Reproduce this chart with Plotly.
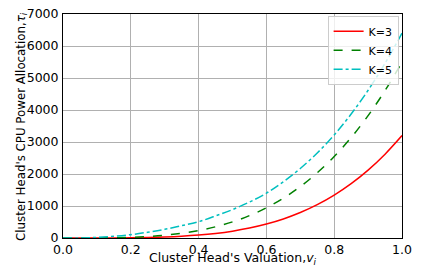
import plotly.graph_objects as go

valuation = [0.0, 0.05, 0.1, 0.15, 0.2, 0.25, 0.3, 0.35, 0.4, 0.45, 0.5,
             0.55, 0.6, 0.65, 0.7, 0.75, 0.8, 0.85, 0.9, 0.95, 1.0]
k3 = [0, 0, 0.4, 2, 6, 14, 29, 53, 90, 142, 214,
      311, 436, 596, 796, 1042, 1341, 1698, 2122, 2620, 3200]
k4 = [0, 0, 2, 8, 21, 46, 86, 147, 233, 350, 503,
      699, 944, 1244, 1607, 2038, 2547, 3140, 3823, 4608, 5500]
k5 = [0, 2, 20, 55, 105, 180, 270, 385, 510, 689, 888,
      1123, 1400, 1758, 2172, 2657, 3220, 3874, 4616, 5459, 6400]
names = ["K=3", "K=4", "K=5"]
colors = ["#ff0000", "#008000", "#00bfbf"]
dashes = ["solid", "dash", "dashdot"]
x_title = "Cluster Head's Valuation,<i>v<sub>i</sub></i>"
y_title = "Cluster Head's CPU Power Allocation,<i>τ<sub>i</sub></i>"

fig = go.Figure()
for name, ys, c, d in zip(names, [k3, k4, k5], colors, dashes):
    fig.add_trace(go.Scatter(x=valuation, y=ys, mode="lines", name=name,
                             line=dict(color=c, width=1.5, dash=d, shape="spline")))

font = "DejaVu Sans, sans-serif"
axis_common = dict(showgrid=True, gridcolor="#b0b0b0", gridwidth=1,
                   showline=True, linecolor="black", linewidth=1, mirror=True,
                   ticks="", zeroline=False, automargin=False,
                   ticklabeloverflow="allow", tickfont=dict(size=12.5))
fig.update_layout(
    width=413, height=258,
    margin=dict(l=55, r=19, t=6, b=28),
    paper_bgcolor="white", plot_bgcolor="white",
    font=dict(family=font, size=12.5, color="black"),
    showlegend=True,
    legend=dict(x=0.99, y=0.992, xanchor="right", yanchor="top",
                bgcolor="rgba(255,255,255,0.8)", bordercolor="#cccccc", borderwidth=1,
                font=dict(size=11), tracegroupgap=0, itemwidth=30),
    xaxis=dict(range=[0, 1], tickvals=[0, 0.2, 0.4, 0.6, 0.8, 1.0],
               ticktext=["0.0", "0.2", "0.4", "0.6", "0.8", "1.0"],
               ticklabelstandoff=0, **axis_common),
    yaxis=dict(range=[0, 7000], tickvals=[0, 1000, 2000, 3000, 4000, 5000, 6000, 7000],
               ticklabelstandoff=1, **axis_common),
    annotations=[
        dict(text=x_title, xref="paper", yref="paper", x=0.5, y=0, yshift=-20,
             xanchor="center", yanchor="middle", showarrow=False, font=dict(size=12.5)),
        dict(text=y_title, xref="paper", yref="paper", x=0, y=0.5, xshift=-42, yshift=-1,
             xanchor="center", yanchor="middle", showarrow=False, textangle=-90,
             font=dict(size=11.8)),
    ],
)
fig.write_html("out.html")
